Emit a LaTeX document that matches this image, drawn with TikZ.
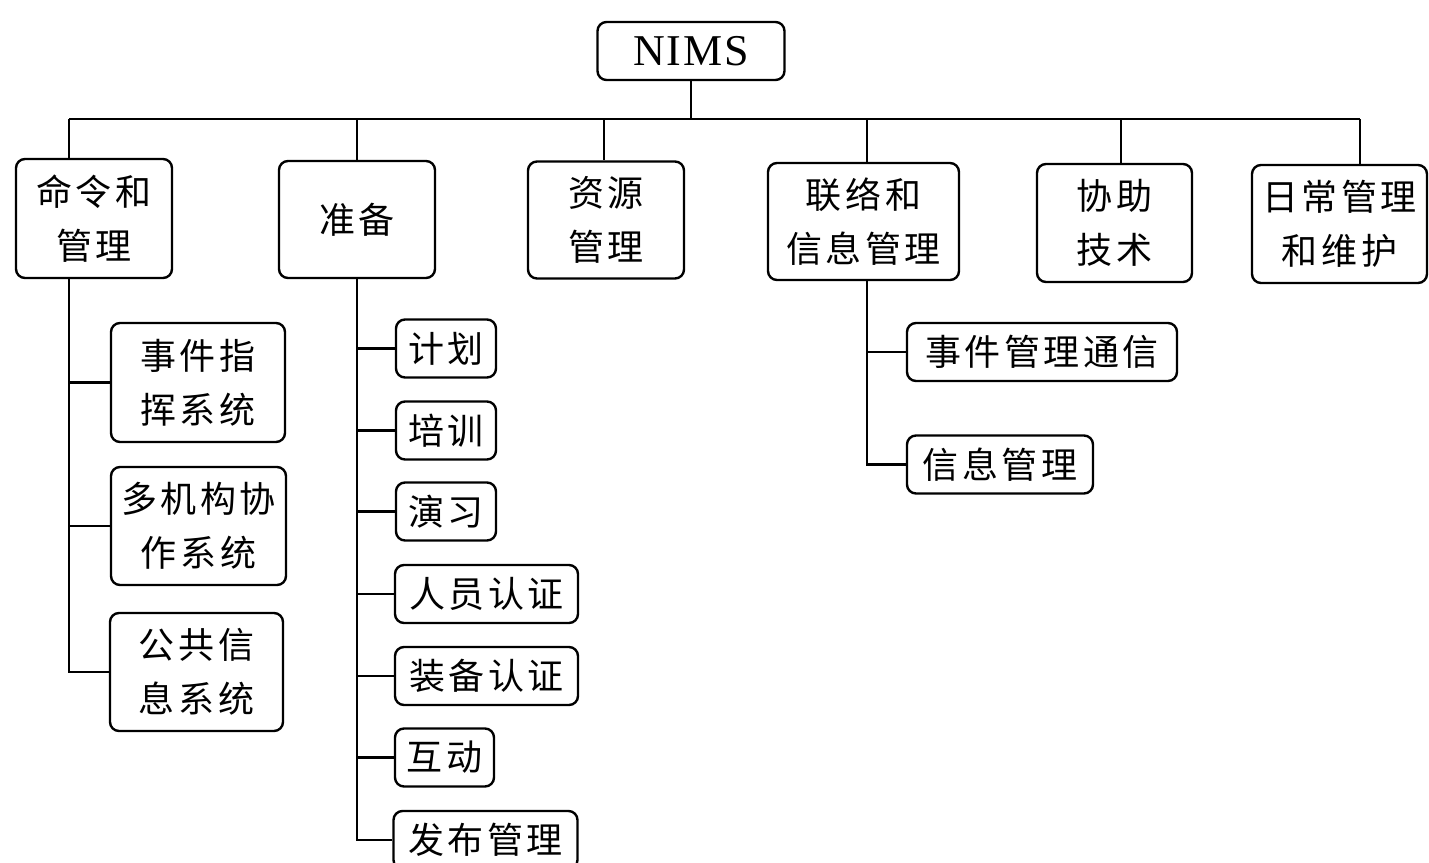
\documentclass[tikz,border=0pt]{standalone}
\usepackage{fontspec}
\setmainfont{Liberation Serif}
\newfontfamily\cjk[LetterSpace=10]{Noto Sans CJK SC}
\newfontfamily\nimsfont[LetterSpace=4]{Liberation Serif}
\begin{document}
\begin{tikzpicture}[x=1pt,y=-1pt,
  line width=2.4pt,
  box/.style={draw, line width=2.4pt, rounded corners=9pt, inner sep=0pt, align=center,
    font=\cjk\fontsize{36}{54}\selectfont},
  topbox/.style={box, minimum height=117pt},
  kid/.style={box, minimum height=58pt}]
\useasboundingbox (0,0) rectangle (1429,862);
% root
\node[box, minimum width=187pt, minimum height=58pt, font=\nimsfont\fontsize{44}{50}\selectfont] (nims) at (691,51) {NIMS};
% top level
\node[topbox, minimum width=156pt, minimum height=119pt] (A1) at (94,218.5) {命令和\\管理};
\node[topbox, minimum width=156pt] (A2) at (357,219.5) {准备};
\node[topbox, minimum width=156pt] (A3) at (606,220) {资源\\管理};
\node[topbox, minimum width=191pt] (A4) at (863.5,221.5) {联络和\\信息管理};
\node[topbox, minimum width=155pt, minimum height=118pt] (A5) at (1114.5,223) {协助\\技术};
\node[topbox, minimum width=175pt, minimum height=118pt] (A6) at (1339.5,224) {日常管理\\和维护};
% command children
\node[box, minimum width=174pt, minimum height=119pt] (C1) at (198,382.5) {事件指\\挥系统};
\node[box, minimum width=175pt, minimum height=118pt] (C2) at (198.5,526) {多机构协\\作系统};
\node[box, minimum width=173pt, minimum height=118pt] (C3) at (196.5,672) {公共信\\息系统};
% preparation children
\node[kid, minimum width=100pt] (P1) at (446,348.5) {计划};
\node[kid, minimum width=100pt] (P2) at (446,430.5) {培训};
\node[kid, minimum width=100pt] (P3) at (446,511.5) {演习};
\node[kid, minimum width=183pt] (P4) at (486.5,594) {人员认证};
\node[kid, minimum width=183pt] (P5) at (486.5,676) {装备认证};
\node[kid, minimum width=99pt] (P6) at (444.5,757.5) {互动};
\node[kid, minimum width=184pt] (P7) at (485.5,840) {发布管理};
% communication children
\node[kid, minimum width=270pt] (M1) at (1042,352) {事件管理通信};
\node[kid, minimum width=186pt] (M2) at (1000,464.5) {信息管理};
% bus
\coordinate (s1) at (69,119);
\coordinate (s2) at (357,119);
\coordinate (s3) at (604,119);
\coordinate (s4) at (867,119);
\coordinate (s5) at (1121,119);
\coordinate (s6) at (1360,119);
\draw (nims.south) -- (nims.south |- s1);
\draw (s1) -- (s6);
\draw (s1) -- (s1 |- A1.north);
\draw (s2) -- (s2 |- A2.north);
\draw (s3) -- (s3 |- A3.north);
\draw (s4) -- (s4 |- A4.north);
\draw (s5) -- (s5 |- A5.north);
\draw (s6) -- (s6 |- A6.north);
% command branch
\draw (A1.south -| s1) |- (C3.west);
\draw (s1 |- C1.west) -- (C1.west);
\draw (s1 |- C2.west) -- (C2.west);
% preparation branch
\draw (A2.south) |- (P7.west);
\foreach \p in {P1,P2,P3,P4,P5,P6}{\draw (A2.south |- \p.west) -- (\p.west);}
% communication branch
\draw (A4.south -| s4) |- (M2.west);
\draw (s4 |- M1.west) -- (M1.west);
\end{tikzpicture}
\end{document}
